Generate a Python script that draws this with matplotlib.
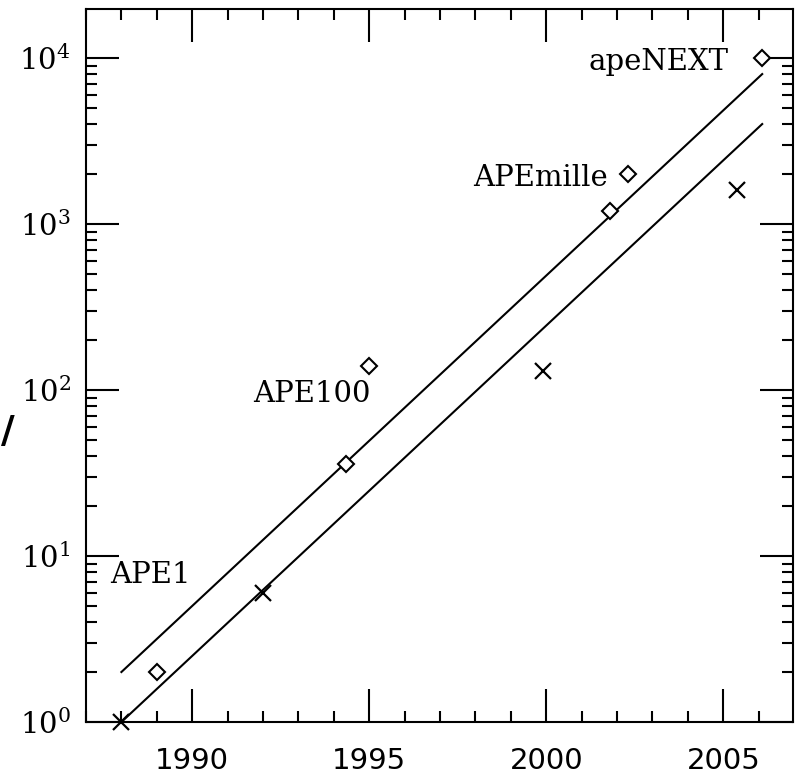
import math
import matplotlib
matplotlib.use("Agg")
import matplotlib.pyplot as plt
from matplotlib.ticker import MultipleLocator, LogLocator, NullFormatter, FuncFormatter

# ---- data ----
diamond_years = [1989.0, 1994.35, 1995.0, 2001.8, 2002.3, 2006.1]
diamond_vals = [2, 36, 140, 1200, 2000, 10000]

cross_years = [1988.0, 1992.0, 1999.9, 2005.4]
cross_vals = [1, 6, 130, 1600]

line_years = [1988.0, 2006.1]
upper_line = [2, 8000]
lower_line = [1, 4000]

labels = ["APE1", "APE100", "APEmille", "apeNEXT"]
label_x = [1987.68, 1991.72, 2001.75, 2005.14]
label_y = [6.9, 85, 1694, 8466]
label_ha = ["left", "left", "right", "right"]

x_ticks = [1990, 1995, 2000, 2005]

plt.rcParams['mathtext.fontset'] = 'dejavuserif'

fig = plt.figure(figsize=(7.98, 7.76), dpi=100)
ax = fig.add_axes([86/798, 1-722/776, (793-86)/798, (722-9)/776])

lw = 1.5
ax.plot(line_years, upper_line, color='black', lw=lw)
ax.plot(line_years, lower_line, color='black', lw=lw)
ax.plot(diamond_years, diamond_vals, linestyle='none', marker='D', ms=8.5,
        mfc='white', mec='black', mew=1.5, clip_on=False, zorder=3)
ax.plot(cross_years, cross_vals, linestyle='none', marker='x', ms=12,
        mec='black', mew=1.6, clip_on=False, zorder=3)

for t, x, y, ha in zip(labels, label_x, label_y, label_ha):
    ax.text(x, y, t, ha=ha, va='baseline', fontsize=21, family='DejaVu Serif')

ax.set_yscale('log')
ax.set_xlim(1987, 2006.97)
ax.set_ylim(1, 10**4.295)

ax.xaxis.set_minor_locator(MultipleLocator(1))
ax.set_xticks(x_ticks)
ax.set_xticklabels([str(t) for t in x_ticks], fontsize=21, family='DejaVu Sans')

ax.yaxis.set_major_locator(LogLocator(base=10, numticks=10))
ax.yaxis.set_minor_locator(LogLocator(base=10, subs=range(2, 10), numticks=20))
ax.yaxis.set_minor_formatter(NullFormatter())
ax.yaxis.set_major_formatter(FuncFormatter(lambda v, p: r'$10^{%d}$' % round(math.log10(v))))

ax.tick_params(which='both', direction='in', top=True, right=True, width=1.5, color='black')
ax.tick_params(which='major', length=23.5)
ax.tick_params(which='minor', length=8)
ax.tick_params(axis='x', which='major', pad=18)
ax.tick_params(axis='y', which='major', pad=11, labelsize=21)
for lab in ax.get_yticklabels():
    lab.set_family('DejaVu Serif')

for s in ax.spines.values():
    s.set_linewidth(1.5)

fig.text(0.001, 1-432/776, "/", fontsize=27, ha='left', va='center',
         family='DejaVu Sans', fontweight='bold')

fig.savefig("out.png", dpi=100)
